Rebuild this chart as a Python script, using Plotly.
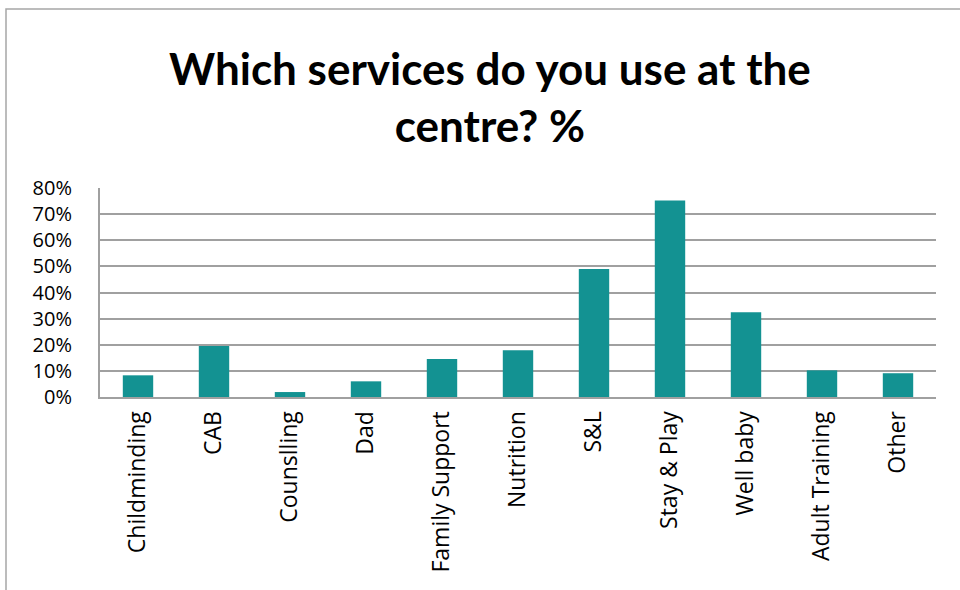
import plotly.graph_objects as go

# Survey results: share of respondents using each centre service
services = ["Childminding", "CAB", "Counslling", "Dad", "Family Support", "Nutrition",
            "S&L", "Stay & Play", "Well baby", "Adult Training", "Other"]
usage_pct = [8.3, 19.5, 1.9, 6.0, 14.5, 17.9, 49.0, 75.2, 32.4, 10.2, 9.1]
y_ticks = [0, 10, 20, 30, 40, 50, 60, 70, 80]
y_tick_labels = [f"{v}%" for v in y_ticks]
chart_title = "Which services do you use at the<br>centre? %"

W, H = 960, 590
ML, MR, MT, MB = 100, 24, 188, 193
pw, ph = W - ML - MR, H - MT - MB

fig = go.Figure(go.Bar(
    x=services,
    y=usage_pct,
    marker=dict(color="#139292", line=dict(width=0)),
))


# pixel -> paper helpers for the frame and title
def px_x(x):
    return (x - ML) / pw


def px_y(y):
    return (H - MB - y) / ph


# outer chart-area frame
fig.add_shape(type="rect", xref="paper", yref="paper",
              x0=px_x(6), x1=px_x(975), y0=px_y(605), y1=px_y(9),
              line=dict(color="#a6a6a6", width=1.5), layer="below")

fig.add_annotation(
    text=chart_title, showarrow=False,
    xref="paper", yref="paper",
    x=px_x(490), xanchor="center",
    y=px_y(40), yanchor="top",
    align="center",
    font=dict(family="Lato", size=44, color="black", weight="bold"),
)

fig.update_layout(
    width=W, height=H,
    margin=dict(l=ML, r=MR, t=MT, b=MB),
    paper_bgcolor="white", plot_bgcolor="white",
    showlegend=False,
    bargap=0.6,
    font=dict(family="Open Sans", color="black"),
)

fig.update_xaxes(
    tickangle=-90,
    tickfont=dict(family="Open Sans", size=23, color="black"),
    showline=True, linecolor="#a0a0a0", linewidth=2,
    showgrid=False,
    ticks="outside", ticklen=3, tickcolor="rgba(0,0,0,0)",
    fixedrange=True,
)

fig.update_yaxes(
    range=[0, 80],
    tickvals=y_ticks, ticktext=y_tick_labels,
    tickfont=dict(family="Open Sans", size=20, color="black"),
    showgrid=True, gridcolor="#a0a0a0", gridwidth=2,
    showline=True, linecolor="#a0a0a0", linewidth=2,
    zeroline=False,
    ticks="outside", ticklen=22, tickcolor="rgba(0,0,0,0)",
    fixedrange=True,
)

fig.write_html("out.html", config={"displayModeBar": False})
